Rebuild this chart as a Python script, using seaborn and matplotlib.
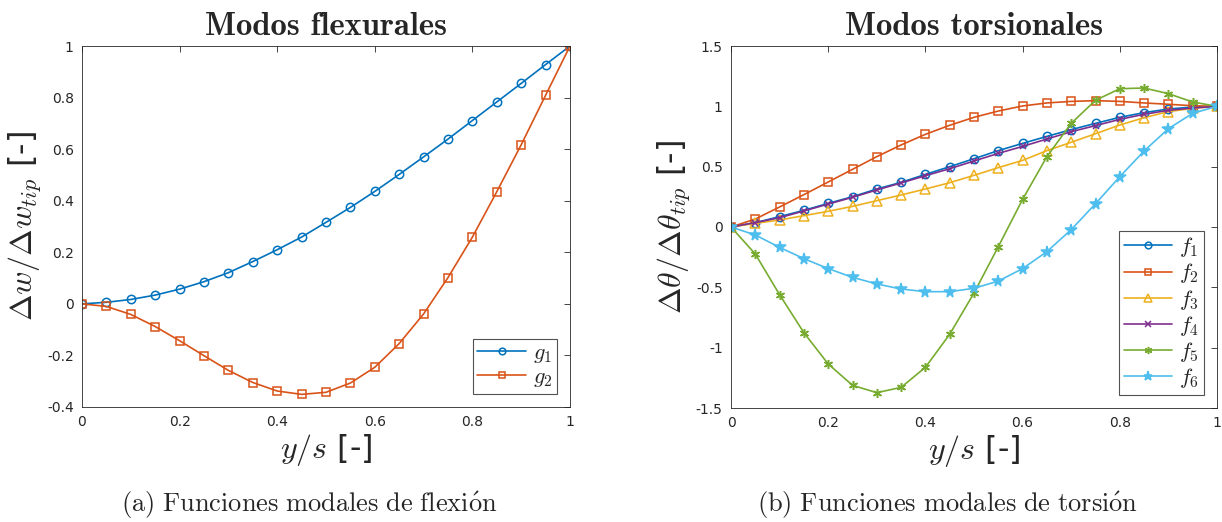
import matplotlib
matplotlib.use("Agg")
import matplotlib.pyplot as plt
import seaborn as sns
import numpy as np

# ---- data ----
s = [0.0, 0.05, 0.1, 0.15, 0.2, 0.25, 0.3, 0.35, 0.4, 0.45, 0.5,
     0.55, 0.6, 0.65, 0.7, 0.75, 0.8, 0.85, 0.9, 0.95, 1.0]

g1 = [0.0, 0.006, 0.017, 0.034, 0.057, 0.086, 0.121, 0.164, 0.210, 0.259, 0.316,
      0.374, 0.436, 0.502, 0.570, 0.639, 0.711, 0.783, 0.855, 0.928, 1.0]
g2 = [0.0, -0.010, -0.041, -0.088, -0.143, -0.201, -0.258, -0.305, -0.338, -0.351, -0.343,
      -0.307, -0.246, -0.154, -0.039, 0.102, 0.259, 0.435, 0.617, 0.809, 1.0]

f1 = [0.0, 0.036, 0.086, 0.138, 0.196, 0.251, 0.315, 0.370, 0.436, 0.500, 0.566,
      0.633, 0.693, 0.751, 0.807, 0.859, 0.909, 0.948, 0.978, 0.994, 1.0]
f2 = [0.0, 0.066, 0.166, 0.268, 0.373, 0.478, 0.583, 0.680, 0.768, 0.843, 0.909,
      0.961, 1.003, 1.028, 1.041, 1.047, 1.041, 1.028, 1.017, 1.005, 1.0]
f3 = [0.0, 0.030, 0.058, 0.094, 0.130, 0.171, 0.218, 0.265, 0.315, 0.367, 0.428,
      0.492, 0.552, 0.633, 0.702, 0.773, 0.845, 0.906, 0.956, 0.983, 1.0]
f4 = [0.0, 0.036, 0.077, 0.133, 0.190, 0.246, 0.307, 0.365, 0.425, 0.483, 0.547,
      0.610, 0.668, 0.729, 0.790, 0.840, 0.892, 0.934, 0.967, 0.986, 1.0]
f5 = [0.0, -0.224, -0.561, -0.876, -1.135, -1.312, -1.373, -1.329, -1.163, -0.889, -0.547,
      -0.163, 0.229, 0.583, 0.859, 1.050, 1.146, 1.152, 1.105, 1.036, 1.0]
f6 = [0.0, -0.066, -0.169, -0.262, -0.345, -0.417, -0.472, -0.514, -0.536, -0.536, -0.508,
      -0.448, -0.345, -0.204, -0.022, 0.193, 0.417, 0.630, 0.815, 0.942, 1.0]

left_labels = [r"$g_1$", r"$g_2$"]
right_labels = [r"$f_1$", r"$f_2$", r"$f_3$", r"$f_4$", r"$f_5$", r"$f_6$"]

left_xticks = [0, 0.2, 0.4, 0.6, 0.8, 1]
left_xticklabels = ["0", "0.2", "0.4", "0.6", "0.8", "1"]
left_yticks = [-0.4, -0.2, 0, 0.2, 0.4, 0.6, 0.8, 1]
left_yticklabels = ["-0.4", "-0.2", "0", "0.2", "0.4", "0.6", "0.8", "1"]
right_yticks = [-1.5, -1, -0.5, 0, 0.5, 1, 1.5]
right_yticklabels = ["-1.5", "-1", "-0.5", "0", "0.5", "1", "1.5"]

titles = ["Modos flexurales", "Modos torsionales"]
captions = [r"$\mathrm{(a)\ Funciones\ modales\ de\ flexi\acute{o}n}$",
            r"$\mathrm{(b)\ Funciones\ modales\ de\ torsi\acute{o}n}$"]
ylabels = [r"$\Delta w/\Delta w_{tip}$ [-]", r"$\Delta\theta/\Delta\theta_{tip}$ [-]"]
xlabel = r"$y/s$ [-]"

# ---- style ----
sns.set_style("white")
plt.rcParams["font.family"] = ["DejaVu Sans"]
plt.rcParams["mathtext.fontset"] = "cm"
plt.rcParams["axes.unicode_minus"] = False

colors = ["#0072BD", "#D95319", "#EDB120", "#7E2F8E", "#77AC30", "#4DBEEE"]

fig = plt.figure(figsize=(12.22, 5.22), dpi=100)
axL = fig.add_axes([82/1222, 1-407/522, 488/1222, 361/522])
axR = fig.add_axes([731/1222, 1-408/522, 486/1222, 362/522])

def style_ax(ax):
    for sp in ax.spines.values():
        sp.set_color("#262626")
        sp.set_linewidth(0.6)
    ax.tick_params(direction="in", top=True, right=True, length=4, width=0.6,
                   colors="#262626", labelsize=10, pad=6)

# left
lw = 1.2
sns.lineplot(x=s, y=g1, ax=axL, color=colors[0], marker="o", markersize=6,
             markerfacecolor="none", markeredgecolor=colors[0], markeredgewidth=1.1,
             linewidth=lw, label=left_labels[0])
sns.lineplot(x=s, y=g2, ax=axL, color=colors[1], marker="s", markersize=6,
             markerfacecolor="none", markeredgecolor=colors[1], markeredgewidth=1.1,
             linewidth=lw, label=left_labels[1])
axL.set_xlim(0, 1)
axL.set_ylim(-0.4, 1)
axL.set_xticks(left_xticks)
axL.set_xticklabels(left_xticklabels)
axL.set_yticks(left_yticks)
axL.set_yticklabels(left_yticklabels)
style_ax(axL)

# right
series = [f1, f2, f3, f4, f5, f6]
markers = ["o", "s", "^", "x", (6, 2, 0), "*"]
msizes = [6, 6, 7, 5, 6.5, 8.5]
for i, (y, m) in enumerate(zip(series, markers)):
    kw = dict(markeredgecolor=colors[i], markeredgewidth=1.1)
    if i < 3:
        kw["markerfacecolor"] = "none"
    else:
        kw["markerfacecolor"] = colors[i]
    sns.lineplot(x=s, y=y, ax=axR, color=colors[i], marker=m, markersize=msizes[i],
                 linewidth=lw, label=right_labels[i], **kw)
axR.set_xlim(0, 1)
axR.set_ylim(-1.5, 1.5)
axR.set_xticks(left_xticks)
axR.set_xticklabels(left_xticklabels)
axR.set_yticks(right_yticks)
axR.set_yticklabels(right_yticklabels)
style_ax(axR)

cap_x = [309/1222, 948/1222]
for ax, t, cap, yl, cx in zip([axL, axR], titles, captions, ylabels, cap_x):
    ax.set_title(t, fontsize=23.5, fontweight="bold", family=["cmb10", "DejaVu Serif"], pad=8)
    ax.set_xlabel(xlabel, fontsize=23, labelpad=2)
    ax.set_ylabel(yl, fontsize=23, labelpad=2)
    fig.text(cx, 1-505/522, cap, ha="center", va="center", fontsize=19)

legL = axL.legend(loc="lower right", fontsize=16, frameon=True, fancybox=False,
                  edgecolor="#262626", handlelength=2.2, borderpad=0.2,
                  labelspacing=0.1, handletextpad=0.3, borderaxespad=0.6,
                  markerscale=0.8)
legL.get_frame().set_linewidth(0.8)
legR = axR.legend(loc="lower right", fontsize=16, frameon=True, fancybox=False,
                  edgecolor="#262626", handlelength=2.2, borderpad=0.2,
                  labelspacing=0.1, handletextpad=0.3, borderaxespad=0.6,
                  markerscale=0.8)
legR.get_frame().set_linewidth(0.8)

fig.savefig("out.png", dpi=100)
